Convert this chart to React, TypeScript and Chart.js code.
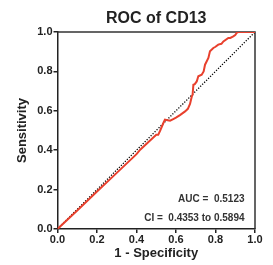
import { useEffect, useRef } from "react";
import { Chart, registerables } from "chart.js";

Chart.register(...registerables);

// ROC curve (1 - specificity, sensitivity)
const fpr = [0, 0.1, 0.2, 0.3, 0.4, 0.42, 0.5, 0.51, 0.52, 0.536, 0.544, 0.57, 0.586, 0.6, 0.62, 0.646, 0.66, 0.671, 0.68, 0.684, 0.688, 0.695, 0.705, 0.713, 0.73, 0.74, 0.747, 0.764, 0.772, 0.789, 0.8, 0.814, 0.83, 0.84, 0.865, 0.875, 0.89, 0.9, 0.907, 0.916, 1.0];
const tpr = [0, 0.094, 0.19, 0.285, 0.38, 0.404, 0.478, 0.478, 0.5, 0.538, 0.555, 0.55, 0.558, 0.565, 0.578, 0.597, 0.61, 0.635, 0.673, 0.682, 0.732, 0.735, 0.749, 0.775, 0.783, 0.8, 0.834, 0.868, 0.902, 0.919, 0.925, 0.936, 0.94, 0.952, 0.97, 0.97, 0.978, 0.985, 0.995, 1.0, 1.0];

// Reference diagonal
const diagX = [0, 1];
const diagY = [0, 1];

const xTicks = [0, 0.2, 0.4, 0.6, 0.8, 1.0];
const yTicks = [0, 0.2, 0.4, 0.6, 0.8, 1.0];

const titleText = "ROC of CD13";
const xTitle = "1 - Specificity";
const yTitle = "Sensitivity";
const aucText = "AUC =  0.5123";
const ciText = "CI =  0.4353 to 0.5894";

const FONT = "'Liberation Sans', Arial, Helvetica, sans-serif";
const AXIS = "#222222";
const RED = "#e8402d";

export default function App() {
  const ref = useRef<HTMLCanvasElement | null>(null);

  useEffect(() => {
    document.body.style.margin = "0";
    const canvas = ref.current;
    if (!canvas) return;

    const framePlugin = {
      id: "frame",
      beforeDatasetsDraw(chart: any) {
        const { ctx, chartArea } = chart;
        ctx.save();
        ctx.strokeStyle = "#333333";
        ctx.lineWidth = 1.5;
        ctx.beginPath();
        ctx.moveTo(chartArea.left, chartArea.top);
        ctx.lineTo(chartArea.right, chartArea.top);
        ctx.lineTo(chartArea.right, chartArea.bottom);
        ctx.stroke();
        ctx.restore();
      },
      afterDraw(chart: any) {
        const { ctx, chartArea } = chart;
        ctx.save();
        ctx.fillStyle = "#222222";
        ctx.textAlign = "center";
        ctx.textBaseline = "alphabetic";
        ctx.font = `bold 16px ${FONT}`;
        ctx.fillText(titleText, (chartArea.left + chartArea.right) / 2, 22.7);
        ctx.fillStyle = "#333333";
        ctx.textAlign = "right";
        ctx.font = `bold 10px ${FONT}`;
        ctx.fillText(aucText, 244.5, 202.3);
        ctx.fillText(ciText, 244.5, 220.7);
        ctx.restore();
      },
    };

    const chart = new Chart(canvas, {
      type: "scatter",
      data: {
        datasets: [
          {
            label: "ROC",
            data: fpr.map((x, i) => ({ x, y: tpr[i] })),
            showLine: true,
            borderColor: RED,
            backgroundColor: RED,
            borderWidth: 2,
            pointRadius: 0,
            tension: 0,
            order: 0,
          },
          {
            label: "Reference",
            data: diagX.map((x, i) => ({ x, y: diagY[i] })),
            showLine: true,
            borderColor: "#000000",
            borderWidth: 1.3,
            borderDash: [1.2, 1.6],
            pointRadius: 0,
            order: 1,
          },
        ],
      },
      options: {
        responsive: false,
        animation: false,
        devicePixelRatio: 1,
        layout: { padding: { top: 32, right: 18, left: 0, bottom: 0 } },
        plugins: {
          legend: { display: false },
          title: { display: false },
          tooltip: { enabled: false },
        },
        scales: {
          x: {
            type: "linear",
            min: 0,
            max: 1,
            afterBuildTicks: (s: any) => {
              s.ticks = xTicks.map((v) => ({ value: v }));
            },
            afterFit: (s: any) => {
              s.height = 36;
            },
            ticks: {
              callback: (v: any) => Number(v).toFixed(1),
              font: { family: FONT, size: 11, weight: "bold" },
              color: "#222222",
              padding: 0,
              maxRotation: 0,
            },
            grid: {
              display: true,
              drawOnChartArea: false,
              drawTicks: true,
              tickLength: 4,
              color: AXIS,
              lineWidth: 1.5,
            },
            border: { display: true, color: AXIS, width: 1.5 },
            title: {
              display: true,
              text: xTitle,
              color: "#222222",
              font: { family: FONT, size: 13, weight: "bold" },
              padding: { top: 0, bottom: 4 },
            },
          },
          y: {
            type: "linear",
            min: 0,
            max: 1,
            afterBuildTicks: (s: any) => {
              s.ticks = yTicks.map((v) => ({ value: v }));
            },
            afterFit: (s: any) => {
              s.width = 57.5;
            },
            ticks: {
              callback: (v: any) => Number(v).toFixed(1),
              font: { family: FONT, size: 11, weight: "bold" },
              color: "#222222",
              padding: 1,
            },
            grid: {
              display: true,
              drawOnChartArea: false,
              drawTicks: true,
              tickLength: 4,
              color: AXIS,
              lineWidth: 1.5,
            },
            border: { display: true, color: AXIS, width: 1.5 },
            title: {
              display: true,
              text: yTitle,
              color: "#222222",
              font: { family: FONT, size: 13, weight: "bold" },
              padding: { top: 15, bottom: 0 },
            },
          },
        },
      },
      plugins: [framePlugin],
    } as any);

    return () => chart.destroy();
  }, []);

  return (
    <div style={{ width: 273, height: 265, background: "#ffffff" }}>
      <canvas ref={ref} width={273} height={265} />
    </div>
  );
}
